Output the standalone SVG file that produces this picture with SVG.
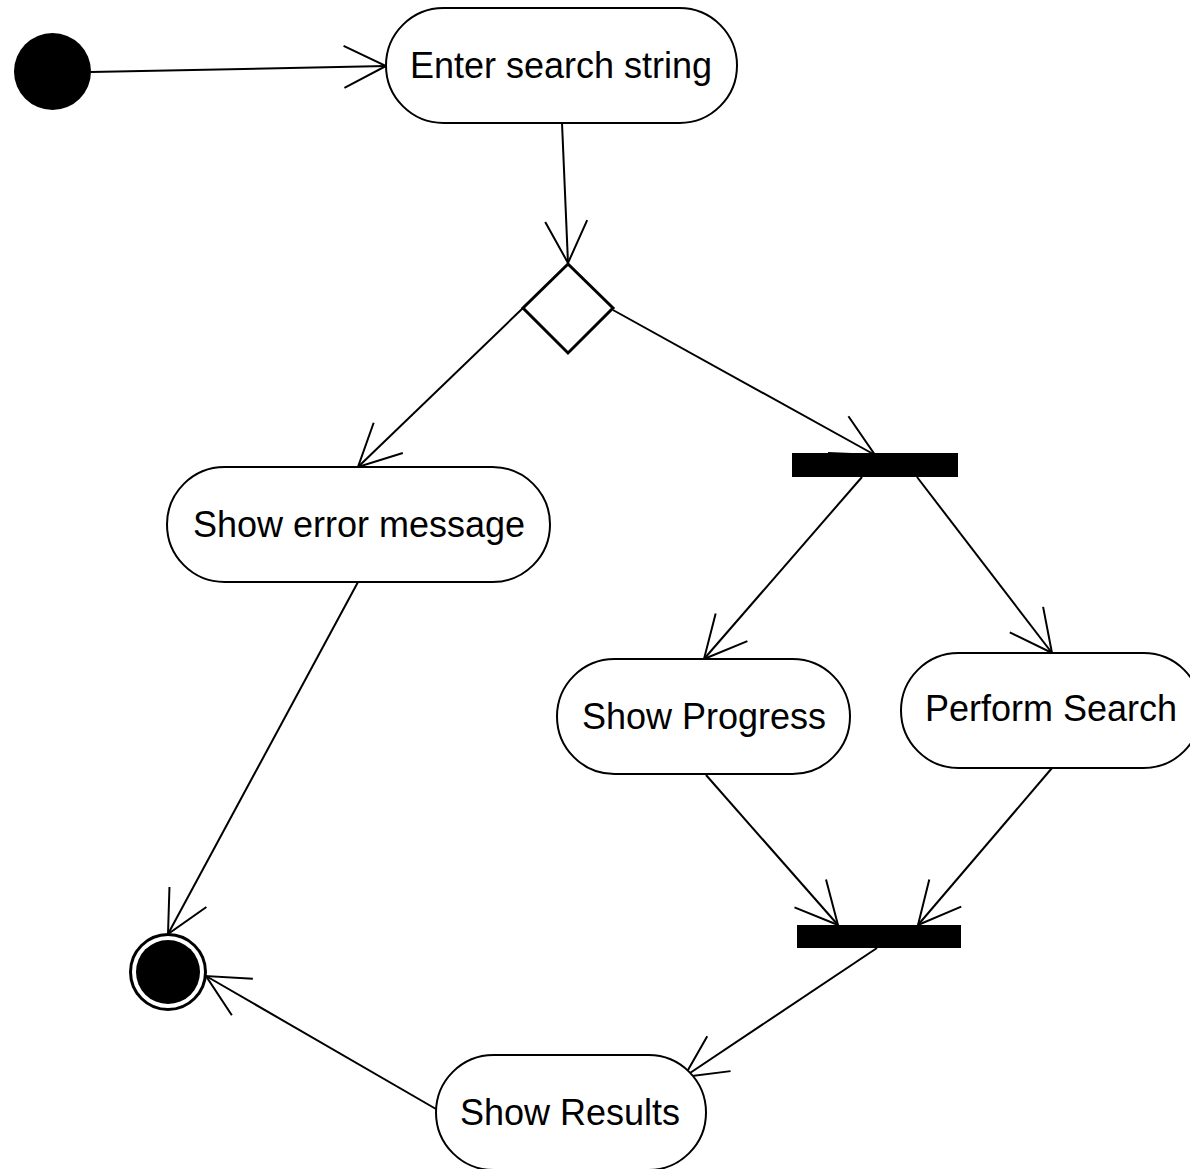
<svg xmlns="http://www.w3.org/2000/svg" width="1190" height="1169" viewBox="0 0 1190 1169">
<style>
.act{fill:#fff;stroke:#000;stroke-width:2}
.lbl{font-family:"Liberation Sans",Arial,sans-serif;font-size:36px;fill:#000;text-anchor:middle;dominant-baseline:central}
.edge{fill:none;stroke:#000;stroke-width:2;marker-end:url(#open)}
</style>
<defs>
<marker id="open" markerUnits="userSpaceOnUse" orient="auto" refX="0" refY="0" markerWidth="60" markerHeight="60" overflow="visible">
<path d="M-42,-21 L0,0 L-42,21" fill="none" stroke="#000" stroke-width="2"/>
</marker>
</defs>
<rect width="1190" height="1169" fill="#fff"/>
<g id="connectors">
<line class="edge" x1="91" y1="72" x2="386" y2="66"/>
<line class="edge" x1="562" y1="123" x2="568" y2="263"/>
<line class="edge" x1="523" y1="308" x2="358" y2="467"/>
<line class="edge" x1="613" y1="310" x2="875" y2="455"/>
<line class="edge" x1="862" y1="477" x2="704" y2="659"/>
<line class="edge" x1="917" y1="477" x2="1052" y2="653"/>
<line class="edge" x1="706" y1="775" x2="838" y2="925"/>
<line class="edge" x1="1052" y1="768" x2="918" y2="925"/>
<line class="edge" x1="877" y1="948" x2="684" y2="1077"/>
<line class="edge" x1="436" y1="1109" x2="206" y2="976"/>
<line class="edge" x1="358" y1="582" x2="168" y2="934"/>
</g>
<g id="start"><circle cx="52.5" cy="71.5" r="38.5" fill="#000"/></g>
<g id="enter"><rect class="act" x="386" y="8" width="351" height="115" rx="57.5"/><text class="lbl" x="561" y="65">Enter search string</text></g>
<g id="decision"><polygon points="568,264 613,308 568,353 523,308" fill="#fff" stroke="#000" stroke-width="3"/></g>
<g id="fork"><rect x="792" y="453" width="166" height="24" fill="#000"/></g>
<g id="error"><rect class="act" x="167" y="467" width="383" height="115" rx="57.5"/><text class="lbl" x="359" y="524">Show error message</text></g>
<g id="progress"><rect class="act" x="557" y="659" width="293" height="115" rx="57.5"/><text class="lbl" x="704" y="716">Show Progress</text></g>
<g id="search"><rect class="act" x="901" y="653" width="300" height="115" rx="57.5"/><text class="lbl" x="1051" y="708">Perform Search</text></g>
<g id="join"><rect x="797" y="925" width="164" height="23" fill="#000"/></g>
<g id="results"><rect class="act" x="436" y="1055" width="270" height="115" rx="57.5"/><text class="lbl" x="570" y="1112">Show Results</text></g>
<g id="end"><circle cx="168" cy="972" r="37.5" fill="#fff" stroke="#000" stroke-width="3"/><circle cx="168" cy="972" r="32" fill="#000"/></g>
</svg>
